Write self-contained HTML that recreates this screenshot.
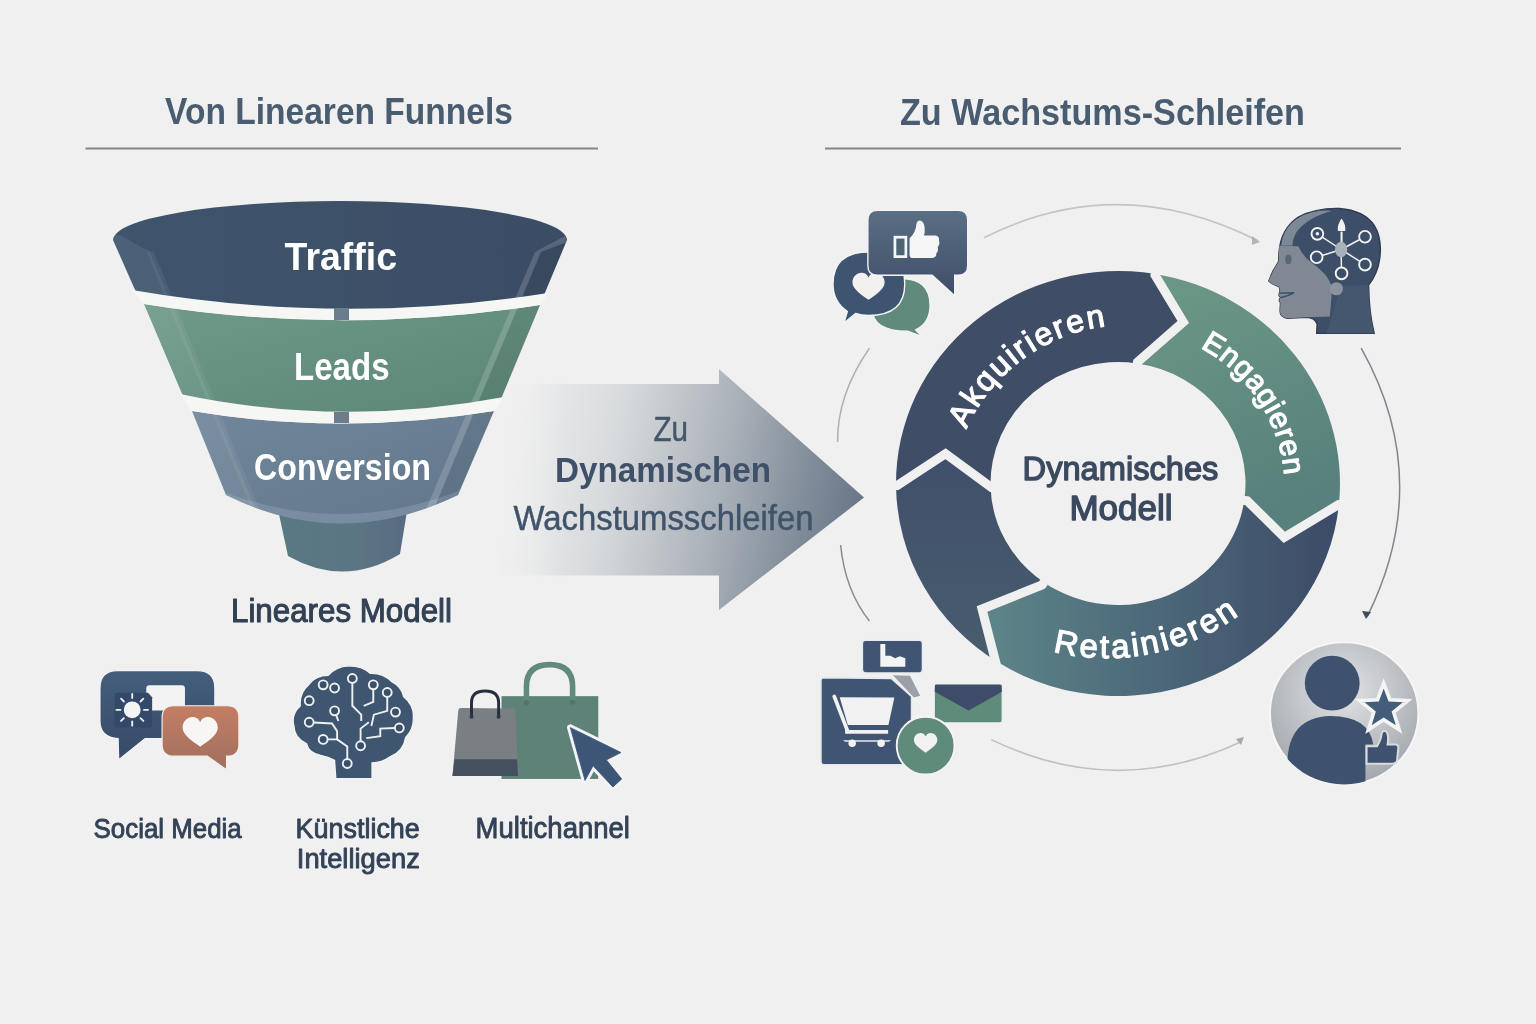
<!DOCTYPE html>
<html><head><meta charset="utf-8">
<style>
html,body{margin:0;padding:0;background:#f0f0f0;}
body{width:1536px;height:1024px;overflow:hidden;}
svg{display:block;font-family:"Liberation Sans", sans-serif;filter:blur(0.45px);}
</style></head><body>
<svg width="1536" height="1024" viewBox="0 0 1536 1024">
<defs>
<linearGradient id="gArrow" gradientUnits="userSpaceOnUse" x1="500" y1="465" x2="864" y2="535">
 <stop offset="0" stop-color="#f0f0f0"/>
 <stop offset="0.08" stop-color="#e8e9ea"/>
 <stop offset="0.3" stop-color="#d7dadc"/>
 <stop offset="0.6" stop-color="#a9b0b8"/>
 <stop offset="0.82" stop-color="#818d9a"/>
 <stop offset="1" stop-color="#657385"/>
</linearGradient>
<linearGradient id="gFade" x1="0" y1="0" x2="1" y2="0">
 <stop offset="0" stop-color="#f0f0f0" stop-opacity="1"/>
 <stop offset="1" stop-color="#f0f0f0" stop-opacity="0"/>
</linearGradient>
<linearGradient id="gB1" x1="0" y1="0" x2="1" y2="0">
 <stop offset="0" stop-color="#3f556d"/>
 <stop offset="0.5" stop-color="#3d5169"/>
 <stop offset="1" stop-color="#3b4c65"/>
</linearGradient>
<linearGradient id="gB2" x1="0" y1="0" x2="1" y2="1">
 <stop offset="0" stop-color="#6f9a8a"/>
 <stop offset="1" stop-color="#5b8575"/>
</linearGradient>
<linearGradient id="gB3" x1="0" y1="0" x2="1" y2="1">
 <stop offset="0" stop-color="#70879b"/>
 <stop offset="1" stop-color="#62768b"/>
</linearGradient>
<linearGradient id="gSp" x1="0" y1="0" x2="1" y2="0">
 <stop offset="0" stop-color="#587984"/>
 <stop offset="0.6" stop-color="#5b7683"/>
 <stop offset="1" stop-color="#586b82"/>
</linearGradient>
<linearGradient id="gEng" x1="0" y1="0" x2="0.3" y2="1">
 <stop offset="0" stop-color="#6c9986"/>
 <stop offset="1" stop-color="#58807c"/>
</linearGradient>
<linearGradient id="gRet" gradientUnits="userSpaceOnUse" x1="990" y1="0" x2="1330" y2="0">
 <stop offset="0" stop-color="#5d8589"/>
 <stop offset="0.45" stop-color="#4d6a7a"/>
 <stop offset="1" stop-color="#3d4c68"/>
</linearGradient>
<linearGradient id="gLeft" x1="0" y1="0" x2="0" y2="1">
 <stop offset="0" stop-color="#404f6a"/>
 <stop offset="1" stop-color="#485d6e"/>
</linearGradient>
<radialGradient id="gUser" cx="0.5" cy="0.35" r="0.65">
 <stop offset="0" stop-color="#e1e3e5"/>
 <stop offset="1" stop-color="#a3a8ae"/>
</radialGradient>
<linearGradient id="gBubble" x1="0" y1="0" x2="0" y2="1">
 <stop offset="0" stop-color="#5b6f84"/>
 <stop offset="1" stop-color="#3e4d69"/>
</linearGradient>
<linearGradient id="gSoc" x1="0" y1="0" x2="0" y2="1">
 <stop offset="0" stop-color="#435e7b"/>
 <stop offset="1" stop-color="#374a68"/>
</linearGradient>
<linearGradient id="gOrange" x1="0" y1="0" x2="0" y2="1">
 <stop offset="0" stop-color="#c47e64"/>
 <stop offset="1" stop-color="#9f6f5e"/>
</linearGradient>
</defs>
<text x="165.0" y="124.0" font-size="37.0" font-weight="bold" fill="#4a5d70" textLength="348.0" lengthAdjust="spacingAndGlyphs" >Von Linearen Funnels</text>
<text x="900.0" y="124.5" font-size="37.0" font-weight="bold" fill="#4a5d70" textLength="405.0" lengthAdjust="spacingAndGlyphs" >Zu Wachstums-Schleifen</text>
<rect x="85.5" y="147.5" width="512.5" height="2" fill="#7e8891"/>
<rect x="825" y="147.5" width="576" height="2" fill="#7e8891"/>
<path d="M500,384 L719,384 L719,369 L864,497.5 L719,610 L719,575.5 L500,575.5 Z" fill="url(#gArrow)"/>
<rect x="495" y="380" width="70" height="200" fill="url(#gFade)"/>
<text x="653.4" y="440.7" font-size="35.0" font-weight="normal" fill="#44566a" textLength="34.6" lengthAdjust="spacingAndGlyphs"  stroke="#44566a" stroke-width="0.5" stroke-linejoin="round">Zu</text>
<text x="555.0" y="481.7" font-size="35.0" font-weight="bold" fill="#3f5068" textLength="216.0" lengthAdjust="spacingAndGlyphs" >Dynamischen</text>
<text x="513.5" y="530.0" font-size="35.0" font-weight="normal" fill="#40536a" textLength="300.0" lengthAdjust="spacingAndGlyphs"  stroke="#40536a" stroke-width="0.5" stroke-linejoin="round">Wachstumsschleifen</text>
<g id="funnel">
<clipPath id="cFun"><path d="M113,240 A227,39 0 0 1 567,240 L544,295 Q340,326 136,292 Z"/><path d="M144,304 Q340,336 540,305 L501,399 Q340,428 183,396 Z"/><path d="M192,411 Q340,436 494,411 L458,495 Q340,552 226,495 Z"/></clipPath>
<path d="M277,505 L408,505 L400,554 Q344,588 288,556 Z" fill="url(#gSp)"/>
<path d="M192,411 Q340,436 494,411 L458,495 Q340,552 226,495 Z" fill="url(#gB3)"/>
<path d="M144,304 Q340,336 540,305 L501,399 Q340,428 183,396 Z" fill="url(#gB2)"/>
<path d="M113,240 A227,39 0 0 1 567,240 L544,295 Q340,326 136,292 Z" fill="url(#gB1)"/>
<g clip-path="url(#cFun)">
<path d="M200,482 Q340,546 480,482 L480,560 L200,560 Z" fill="#8b9eb3" opacity="0.5"/>
<path d="M100,230 L122,236 L150,252 L268,540 L235,540 Z" fill="#ffffff" opacity="0.07"/>
<path d="M146,250 L154,252 L272,540 L264,540 Z" fill="#ffffff" opacity="0.06"/>
<path d="M541,250 L580,232 L580,540 L421,540 Z" fill="#000000" opacity="0.05"/>
<path d="M565,236 L535,252 L413,540 L421,540 L541,252 L567,242 Z" fill="#ffffff" opacity="0.16"/>
</g>
<path d="M132,290 Q340,326 548,293 L540,305 Q340,336 144,304 Z" fill="#f6f6f4"/>
<path d="M180,394 Q340,428 504,397 L494,411 Q340,436 192,411 Z" fill="#f6f6f4"/>
<rect x="334" y="308" width="15" height="12" fill="#6b7d8d"/>
<rect x="334" y="412" width="15" height="11" fill="#6b7d8d"/>
</g>
<text x="284.6" y="270.0" font-size="39.0" font-weight="bold" fill="#ffffff" textLength="112.4" lengthAdjust="spacingAndGlyphs" >Traffic</text>
<text x="294.0" y="380.0" font-size="39.0" font-weight="bold" fill="#ffffff" textLength="95.6" lengthAdjust="spacingAndGlyphs" >Leads</text>
<text x="254.0" y="480.0" font-size="36.0" font-weight="bold" fill="#ffffff" textLength="177.0" lengthAdjust="spacingAndGlyphs" >Conversion</text>
<text x="231.0" y="622.0" font-size="33.5" font-weight="normal" fill="#334155" textLength="221.0" lengthAdjust="spacingAndGlyphs"  stroke="#334155" stroke-width="1.1" stroke-linejoin="round">Lineares Modell</text>
<g id="ring">
<path d="M896.01,485.41 A222.00,212.50 0 0 1 1155.18,274.00 L1183.30,322.00 L1137.28,363.40 A127.50,121.50 0 0 0 990.57,487.43 L945.50,453.70 Z" fill="#404d66"/>
<path d="M1155.18,274.00 A222.00,212.50 0 0 1 1338.89,504.74 L1284.30,537.40 L1244.26,500.41 A127.50,121.50 0 0 0 1137.28,363.40 L1183.30,322.00 Z" fill="url(#gEng)"/>
<path d="M1338.89,504.74 A222.00,212.50 0 0 1 998.46,662.56 L982.00,609.00 L1043.94,582.40 A127.50,121.50 0 0 0 1244.26,500.41 L1284.30,537.40 Z" fill="url(#gRet)"/>
<path d="M998.46,662.56 A222.00,212.50 0 0 1 896.01,485.41 L945.50,453.70 L990.57,487.43 A127.50,121.50 0 0 0 1043.94,582.40 L982.00,609.00 Z" fill="url(#gLeft)"/>
<polyline points="892.8,485.4 897.2,485.4 945.5,453.7 991.4,487.4 995.2,487.3" fill="none" stroke="#f0f0f0" stroke-width="9" stroke-linejoin="miter"/>
<polyline points="1155.7,270.8 1155.0,275.0 1183.3,322.0 1137.5,362.0 1136.9,365.7" fill="none" stroke="#f0f0f0" stroke-width="9" stroke-linejoin="miter"/>
<polyline points="1342.9,505.1 1338.5,504.7 1284.3,537.4 1247.2,500.8 1243.3,500.3" fill="none" stroke="#f0f0f0" stroke-width="9" stroke-linejoin="miter"/>
<polyline points="994.1,669.1 996.5,665.5 982.0,609.0 1042.0,585.0 1044.3,582.0" fill="none" stroke="#f0f0f0" stroke-width="9" stroke-linejoin="miter"/>
</g>
<defs>
<path id="pAk" d="M966.22,429.41 A176.00,176.00 0 0 1 1105.55,326.31" fill="none"/>
<path id="pEn" d="M1200.12,347.73 A160.00,160.00 0 0 1 1284.90,483.42" fill="none"/>
<path id="pRe" d="M1052.81,651.35 A224.00,224.00 0 0 0 1238.66,615.22" fill="none"/>
</defs>
<text font-size="32.0" font-weight="normal" fill="#ffffff" stroke="#ffffff" stroke-width="1.2" stroke-linejoin="round" textLength="181.2" lengthAdjust="spacing"><textPath href="#pAk" startOffset="0">Akquirieren</textPath></text>
<text font-size="30.0" font-weight="normal" fill="#ffffff" stroke="#ffffff" stroke-width="1.2" stroke-linejoin="round" textLength="159.2" lengthAdjust="spacing"><textPath href="#pEn" startOffset="0">Engagieren</textPath></text>
<text font-size="33.0" font-weight="normal" fill="#ffffff" stroke="#ffffff" stroke-width="1.2" stroke-linejoin="round" textLength="195.5" lengthAdjust="spacing"><textPath href="#pRe" startOffset="0">Retainieren</textPath></text>
<text x="1022.6" y="480.0" font-size="34.0" font-weight="normal" fill="#3c4a60" textLength="195.8" lengthAdjust="spacingAndGlyphs"  stroke="#3c4a60" stroke-width="1.4" stroke-linejoin="round">Dynamisches</text>
<text x="1069.4" y="519.5" font-size="35.0" font-weight="normal" fill="#3c4a60" textLength="103.2" lengthAdjust="spacingAndGlyphs"  stroke="#3c4a60" stroke-width="1.4" stroke-linejoin="round">Modell</text>
<path d="M984,237.7 Q1118,170 1258,240.8" fill="none" stroke="#c4c4c4" stroke-width="1.6"/>
<path d="M1252,236 L1260,242 L1252,245 Z" fill="#b4b4b4"/>
<path d="M1361.2,348.2 Q1435,480 1367.3,616.4" fill="none" stroke="#80858b" stroke-width="1.5"/>
<path d="M1362,611 L1366,619 L1371,612 Z" fill="#3f4a5a"/>
<path d="M991.25,739.6 Q1116,800 1241.25,741.7" fill="none" stroke="#c0c0c0" stroke-width="1.6"/>
<path d="M1236,739 L1244,737 L1241,745 Z" fill="#a8a8a8"/>
<path d="M869.4,348.2 Q837,395 837.6,442" fill="none" stroke="#b0b0b0" stroke-width="1.5"/>
<path d="M840.6,545 Q845,590 869.4,621" fill="none" stroke="#8a8a8a" stroke-width="1.5"/>
<g transform="translate(820.00,200.00) scale(0.13675)">
<path d="M380,790 Q380,575 590,575 Q805,575 805,770 Q805,900 700,950 L750,1000 L640,960 Q380,960 380,790 Z" fill="#5f8a7c" stroke="#f4f4f4" stroke-width="10"/>
<path d="M95,615 Q95,380 355,380 Q620,380 620,615 Q620,845 355,845 Q300,845 260,830 L175,900 L200,815 Q95,745 95,615 Z" fill="#3e5571" stroke="#f4f4f4" stroke-width="10"/>
<path transform="translate(355.0,640.0) scale(2.3500)" d="M0,38 C-22,22 -50,5 -50,-16 C-50,-34 -36,-46 -22,-46 C-10,-46 -3,-39 0,-31 C3,-39 10,-46 22,-46 C36,-46 50,-34 50,-16 C50,5 22,22 0,38 Z" fill="#f3f1f0"/>
<path d="M420,75 L1010,75 Q1080,75 1080,145 L1080,480 Q1080,550 1010,550 L985,550 L985,700 L820,550 L420,550 Q350,550 350,480 L350,145 Q350,75 420,75 Z" fill="url(#gBubble)" stroke="#f4f4f4" stroke-width="10"/>
<rect x="548" y="272" width="80" height="142" fill="#4c6476" stroke="#f6f6f6" stroke-width="20"/>
<path d="M655,280 Q700,240 705,175 Q715,140 745,155 Q770,175 765,240 L760,260 L845,260 Q875,265 870,300 Q880,320 860,345 Q870,370 850,390 Q855,420 820,425 L680,425 Q655,425 655,400 Z" fill="#f6f6f6"/>
</g>
<g transform="translate(1250.00,195.00) scale(0.14648)">
<path d="M455,945 L458,880 Q440,835 385,835 L255,842 Q205,835 205,790 L208,735 Q190,715 212,700 Q192,690 200,672 Q210,650 198,625 Q150,610 128,588 Q150,520 195,455 L198,390 Q210,230 330,150 Q450,88 610,92 Q780,105 850,210 Q905,300 885,440 Q870,540 810,615 Q812,800 848,945 Z" fill="#3d4e68" stroke="#2e3b50" stroke-width="9"/>
<path d="M200,345 L330,350 Q360,420 430,470 Q555,560 560,650 L545,830 L385,835 L255,842 Q205,835 205,790 L208,735 Q190,715 212,700 Q192,690 200,672 Q210,650 198,625 Q150,610 128,588 Q150,520 195,455 Z" fill="#7f8893"/>
<path d="M215,330 Q240,170 420,120 Q500,100 560,110 Q400,150 320,250 Q290,300 290,345 L215,345 Z" fill="#8893a0" opacity="0.85"/>
<path d="M200,670 L300,668 Q260,690 212,700" fill="none" stroke="#3d4e68" stroke-width="10"/>
<ellipse cx="262" cy="440" rx="22" ry="32" fill="#5a6676"/>
<path d="M620,620 L560,830 L520,945 L848,945 Q812,800 810,615 Z" fill="#475b70" opacity="0.7"/>
<circle cx="590" cy="640" r="45" fill="#8a939e"/>
<line x1="460" y1="265" x2="622" y2="372" stroke="#f2f2f2" stroke-width="10"/>
<line x1="785" y1="285" x2="622" y2="372" stroke="#f2f2f2" stroke-width="10"/>
<line x1="455" y1="425" x2="622" y2="372" stroke="#f2f2f2" stroke-width="10"/>
<line x1="785" y1="475" x2="622" y2="372" stroke="#f2f2f2" stroke-width="10"/>
<line x1="625" y1="535" x2="622" y2="372" stroke="#f2f2f2" stroke-width="10"/>
<line x1="625" y1="250" x2="625" y2="372" stroke="#f2f2f2" stroke-width="14"/>
<path d="M625,160 Q655,200 650,245 L600,245 Q595,200 625,160 Z" fill="#f2f2f2"/>
<ellipse cx="622" cy="372" rx="42" ry="52" fill="#a9b0b9"/>
<circle cx="460" cy="265" r="40" fill="#3d4e68" stroke="#f4f4f4" stroke-width="13"/>
<circle cx="785" cy="285" r="40" fill="#3d4e68" stroke="#f4f4f4" stroke-width="13"/>
<circle cx="455" cy="425" r="40" fill="#3d4e68" stroke="#f4f4f4" stroke-width="13"/>
<circle cx="785" cy="475" r="40" fill="#3d4e68" stroke="#f4f4f4" stroke-width="13"/>
<circle cx="625" cy="535" r="40" fill="#3d4e68" stroke="#f4f4f4" stroke-width="13"/>
<circle cx="460" cy="265" r="12" fill="#f4f4f4"/>
</g>
<g transform="translate(1255.00,630.00) scale(0.16606)">
<clipPath id="cUser"><ellipse cx="537" cy="502" rx="447" ry="428"/></clipPath>
<ellipse cx="537" cy="502" rx="447" ry="428" fill="url(#gUser)" stroke="#f6f6f6" stroke-width="12"/>
<g clip-path="url(#cUser)">
<path d="M195,820 Q190,525 455,518 Q690,520 712,690 L665,690 L665,1000 L150,1000 Z" fill="#3e5270"/>
<circle cx="465" cy="320" r="165" fill="#3e5270"/>
</g>
<path d="M775,322 L812,420 L920,425 L835,495 L868,600 L775,540 L683,600 L715,495 L630,425 L738,420 Z" fill="#435d7b" stroke="#f4f4f4" stroke-width="22" stroke-linejoin="miter"/>
<path d="M672,700 L735,700 Q760,660 762,625 Q770,600 792,612 Q808,640 798,690 L850,690 Q868,695 862,720 L855,790 Q850,805 830,805 L672,805 Z" fill="#3e5270" stroke="#d8dadd" stroke-width="12"/>
</g>
<g transform="translate(810.00,630.00) scale(0.15625)">
<path d="M530,290 L640,292 L705,420 L665,432 Z" fill="#9aa0a5"/>
<rect x="335" y="65" width="385" height="210" rx="20" fill="#3f5573" stroke="#e9ecee" stroke-width="10"/>
<path d="M450,90 L482,90 L482,165 L515,165 L545,180 L575,168 L610,180 L610,235 L450,235 Z" fill="#f4f4f4"/>
<path d="M85,305 L520,310 L650,425 L650,845 Q650,862 632,862 L88,862 Q70,862 70,845 L70,322 Q70,305 85,305 Z" fill="#3f5573" stroke="#e6e9ec" stroke-width="10"/>
<path d="M190,430 L540,432 L502,608 L242,608 Z" fill="#f2f2f2"/>
<line x1="155" y1="425" x2="242" y2="650" stroke="#f2f2f2" stroke-width="24" stroke-linecap="round"/>
<line x1="225" y1="652" x2="500" y2="652" stroke="#f2f2f2" stroke-width="24"/>
<path d="M210,705 L520,705 L505,715 L225,715 Z" fill="#e9e9e9"/>
<circle cx="270" cy="725" r="24" fill="#f2f2f2"/><circle cx="455" cy="725" r="24" fill="#f2f2f2"/>
<rect x="795" y="345" width="435" height="250" rx="16" fill="#5f8b7b" stroke="#eef0f0" stroke-width="8"/>
<path d="M800,350 L1225,350 L1228,395 L1015,515 L798,395 Z" fill="#3f4c69"/>
<circle cx="740" cy="740" r="185" fill="#5f8b7b" stroke="#f4f4f4" stroke-width="12"/>
<path transform="translate(740.0,728.0) scale(1.5000)" d="M0,38 C-22,22 -50,5 -50,-16 C-50,-34 -36,-46 -22,-46 C-10,-46 -3,-39 0,-31 C3,-39 10,-46 22,-46 C36,-46 50,-34 50,-16 C50,5 22,22 0,38 Z" fill="#f2f2f2"/>
</g>
<g transform="translate(90.00,660.00) scale(0.11723)">
<path d="M235,90 L915,90 Q1065,90 1065,240 L1065,520 Q1065,670 915,670 L470,670 L245,850 L240,670 Q85,660 85,520 L85,240 Q85,90 235,90 Z" fill="url(#gSoc)" stroke="#f4f4f4" stroke-width="10"/>
<rect x="480" y="215" width="330" height="215" rx="28" fill="#f3f3f3"/>
<path d="M230,280 L495,280 L530,318 L530,558 Q530,575 512,575 L228,575 Q210,575 210,558 L210,300 Q210,280 230,280 Z" fill="#33496a"/>
<circle cx="360" cy="425" r="72" fill="#f4f4f4"/>
<line x1="360" y1="325" x2="360" y2="290" stroke="#eef0f2" stroke-width="16" stroke-linecap="round"/>
<line x1="431" y1="354" x2="455" y2="330" stroke="#eef0f2" stroke-width="16" stroke-linecap="round"/>
<line x1="460" y1="425" x2="495" y2="425" stroke="#eef0f2" stroke-width="16" stroke-linecap="round"/>
<line x1="431" y1="496" x2="455" y2="520" stroke="#eef0f2" stroke-width="16" stroke-linecap="round"/>
<line x1="360" y1="525" x2="360" y2="560" stroke="#eef0f2" stroke-width="16" stroke-linecap="round"/>
<line x1="289" y1="496" x2="265" y2="520" stroke="#eef0f2" stroke-width="16" stroke-linecap="round"/>
<line x1="260" y1="425" x2="225" y2="425" stroke="#eef0f2" stroke-width="16" stroke-linecap="round"/>
<line x1="289" y1="354" x2="265" y2="330" stroke="#eef0f2" stroke-width="16" stroke-linecap="round"/>
<path d="M715,390 L1170,390 Q1270,390 1270,490 L1270,720 Q1270,820 1170,820 L1165,820 L1165,935 L1000,820 L715,820 Q615,820 615,720 L615,490 Q615,390 715,390 Z" fill="url(#gOrange)" stroke="#f4efea" stroke-width="10"/>
<path transform="translate(940.0,625.0) scale(3.0000)" d="M0,38 C-22,22 -50,5 -50,-16 C-50,-34 -36,-46 -22,-46 C-10,-46 -3,-39 0,-31 C3,-39 10,-46 22,-46 C36,-46 50,-34 50,-16 C50,5 22,22 0,38 Z" fill="#f8f6f4"/>
</g>
<g transform="translate(280.00,655.00) scale(0.12692)">
<path d="M440,975 L430,830 Q380,800 320,790 Q225,770 210,700 Q110,650 110,560 Q85,470 160,400 Q150,300 230,230 Q280,160 380,160 Q440,90 540,85 Q650,85 710,145 Q810,140 880,210 Q960,250 975,330 Q1060,400 1050,500 Q1055,580 990,650 Q970,760 870,800 Q800,850 725,850 L725,975 Z" fill="#3e5670" stroke="#f4f4f4" stroke-width="10"/>
<path d="M570,215 L570,400 L640,470 L640,520" fill="none" stroke="#eef1f3" stroke-width="15"/>
<path d="M230,530 L410,540 L450,600 L450,665 L340,665" fill="none" stroke="#eef1f3" stroke-width="15"/>
<path d="M450,665 L530,720 L530,820" fill="none" stroke="#eef1f3" stroke-width="15"/>
<path d="M635,680 L635,580 L700,530" fill="none" stroke="#eef1f3" stroke-width="15"/>
<path d="M735,270 L735,370 L660,400" fill="none" stroke="#eef1f3" stroke-width="15"/>
<path d="M845,330 L845,440 L740,470 L720,560" fill="none" stroke="#eef1f3" stroke-width="15"/>
<path d="M905,575 L790,580 L790,640 L680,655" fill="none" stroke="#eef1f3" stroke-width="15"/>
<path d="M430,440 L460,520" fill="none" stroke="#eef1f3" stroke-width="15"/>
<circle cx="340" cy="235" r="35" fill="#3a5069" stroke="#eef1f3" stroke-width="15"/>
<circle cx="430" cy="260" r="35" fill="#3a5069" stroke="#eef1f3" stroke-width="15"/>
<circle cx="570" cy="185" r="35" fill="#3a5069" stroke="#eef1f3" stroke-width="15"/>
<circle cx="735" cy="235" r="35" fill="#3a5069" stroke="#eef1f3" stroke-width="15"/>
<circle cx="845" cy="295" r="35" fill="#3a5069" stroke="#eef1f3" stroke-width="15"/>
<circle cx="230" cy="360" r="35" fill="#3a5069" stroke="#eef1f3" stroke-width="15"/>
<circle cx="430" cy="440" r="35" fill="#3a5069" stroke="#eef1f3" stroke-width="15"/>
<circle cx="910" cy="450" r="35" fill="#3a5069" stroke="#eef1f3" stroke-width="15"/>
<circle cx="230" cy="530" r="35" fill="#3a5069" stroke="#eef1f3" stroke-width="15"/>
<circle cx="940" cy="575" r="35" fill="#3a5069" stroke="#eef1f3" stroke-width="15"/>
<circle cx="340" cy="665" r="35" fill="#3a5069" stroke="#eef1f3" stroke-width="15"/>
<circle cx="635" cy="715" r="35" fill="#3a5069" stroke="#eef1f3" stroke-width="15"/>
<circle cx="530" cy="855" r="35" fill="#3a5069" stroke="#eef1f3" stroke-width="15"/>
</g>
<g transform="translate(440.00,650.00) scale(0.14652)">
<rect x="420" y="315" width="660" height="565" fill="#5e8178"/>
<path d="M590,355 L590,250 Q590,100 748,100 Q905,100 905,250 L905,355" fill="none" stroke="#628a7c" stroke-width="38"/>
<circle cx="590" cy="360" r="18" fill="#4f7668"/><circle cx="905" cy="355" r="18" fill="#4f7668"/>
<path d="M140,395 L505,400 Q515,400 515,410 L532,860 L85,860 L125,410 Q128,395 140,395 Z" fill="#7a7f84"/>
<path d="M100,745 L527,745 L532,860 L85,860 Z" fill="#44505f"/>
<path d="M215,455 L215,360 Q215,280 308,280 Q400,280 400,360 L400,455" fill="none" stroke="#262f3b" stroke-width="20"/>
<circle cx="215" cy="455" r="14" fill="#2f3946"/><circle cx="400" cy="455" r="14" fill="#2f3946"/>
<path d="M890,530 L1235,700 L1135,750 L1240,880 L1180,935 L1045,790 L990,890 Z" fill="#f2f3f4" stroke="#f2f3f4" stroke-width="46" stroke-linejoin="round"/>
<path d="M890,530 L1235,700 L1135,750 L1240,880 L1180,935 L1045,790 L990,890 Z" fill="#3d5677" stroke="#3d5677" stroke-width="6" stroke-linejoin="round"/>
</g>
<text x="93.6" y="838.0" font-size="28.0" font-weight="normal" fill="#334257" textLength="148.1" lengthAdjust="spacingAndGlyphs"  stroke="#334257" stroke-width="0.9" stroke-linejoin="round">Social Media</text>
<text x="295.6" y="838.0" font-size="28.0" font-weight="normal" fill="#334257" textLength="124.2" lengthAdjust="spacingAndGlyphs"  stroke="#334257" stroke-width="0.9" stroke-linejoin="round">Künstliche</text>
<text x="296.8" y="868.0" font-size="28.0" font-weight="normal" fill="#334257" textLength="123.0" lengthAdjust="spacingAndGlyphs"  stroke="#334257" stroke-width="0.9" stroke-linejoin="round">Intelligenz</text>
<text x="475.6" y="838.4" font-size="29.0" font-weight="normal" fill="#334257" textLength="154.3" lengthAdjust="spacingAndGlyphs"  stroke="#334257" stroke-width="0.9" stroke-linejoin="round">Multichannel</text>
</svg>
</body></html>
